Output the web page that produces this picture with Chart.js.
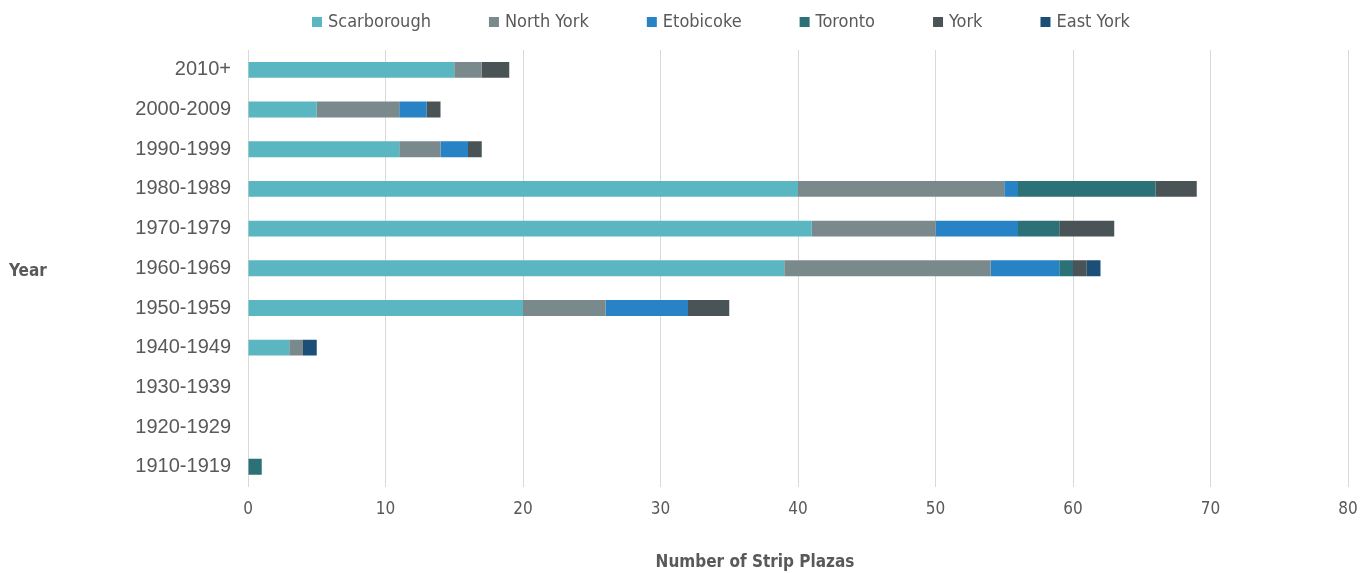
<!DOCTYPE html>
<html>
<head>
<meta charset="utf-8">
<script src="https://cdn.jsdelivr.net/npm/chart.js@4.4.1/dist/chart.umd.min.js"></script>
<style>
  html, body { margin: 0; padding: 0; background: #ffffff; }
  #wrap { width: 1372px; height: 573px; position: relative; }
</style>
</head>
<body>
<div id="wrap"><canvas id="c"></canvas></div>
<script>
// Decades of construction, newest first (top row of the chart)
const decades = ['2010+', '2000-2009', '1990-1999', '1980-1989', '1970-1979', '1960-1969',
                 '1950-1959', '1940-1949', '1930-1939', '1920-1929', '1910-1919'];

// Strip plazas built per decade, by former municipality
const scarborough = [15, 5, 11, 40, 41, 39, 20, 3, 0, 0, 0];
const northYork   = [2, 6, 3, 15, 9, 15, 6, 1, 0, 0, 0];
const etobicoke   = [0, 2, 2, 1, 6, 5, 6, 0, 0, 0, 0];
const toronto     = [0, 0, 0, 10, 3, 1, 0, 0, 0, 0, 1];
const york        = [2, 1, 1, 3, 4, 1, 3, 0, 0, 0, 0];
const eastYork    = [0, 0, 0, 0, 0, 1, 0, 1, 0, 0, 0];

const xTicks = [0, 10, 20, 30, 40, 50, 60, 70, 80];

const series = [
  { label: 'Scarborough', data: scarborough, color: '#5ab6c0' },
  { label: 'North York',  data: northYork,   color: '#7a8a8c' },
  { label: 'Etobicoke',   data: etobicoke,   color: '#2782c6' },
  { label: 'Toronto',     data: toronto,     color: '#2d7178' },
  { label: 'York',        data: york,        color: '#4a5355' },
  { label: 'East York',   data: eastYork,    color: '#1b4f78' }
];

const condensed = '"DejaVu Sans Condensed", "Liberation Sans", sans-serif';
const textGray = '#595959';

// Legend row across the top, plus the two axis titles, drawn on the canvas
const annotations = {
  id: 'annotations',
  afterDraw(chart) {
    const { ctx, chartArea } = chart;
    ctx.save();
    ctx.fillStyle = textGray;

    // legend: square swatch followed by the series name
    ctx.font = '18px ' + condensed;
    ctx.textBaseline = 'middle';
    ctx.textAlign = 'left';
    const start = 312, end = 1130, box = 10, gapText = 6, y = 22;
    const widths = chart.data.datasets.map(d => box + gapText + ctx.measureText(d.label).width);
    const spacing = (end - start - widths.reduce((a, b) => a + b, 0)) / (widths.length - 1);
    let x = start;
    chart.data.datasets.forEach((d, i) => {
      ctx.fillStyle = d.backgroundColor;
      ctx.fillRect(x, y - box / 2, box, box);
      ctx.fillStyle = textGray;
      ctx.fillText(d.label, x + box + gapText, y);
      x += widths[i] + spacing;
    });

    // axis titles
    ctx.font = 'bold 17px ' + condensed;
    ctx.fillText('Year', 9, (chartArea.top + chartArea.bottom) / 2 + 3);
    ctx.textAlign = 'center';
    ctx.fillText('Number of Strip Plazas', 755, 563);
    ctx.restore();
  }
};

new Chart(document.getElementById('c'), {
  type: 'bar',
  data: {
    labels: decades,
    datasets: series.map(s => ({
      label: s.label,
      data: s.data,
      backgroundColor: s.color,
      borderWidth: 0,
      barPercentage: 0.4,
      categoryPercentage: 1.0
    }))
  },
  options: {
    indexAxis: 'y',
    responsive: true,
    maintainAspectRatio: false,
    animation: false,
    layout: { padding: { left: 0, right: 24, top: 50, bottom: 40 } },
    plugins: {
      legend: { display: false },
      tooltip: { enabled: false }
    },
    scales: {
      x: {
        stacked: true,
        min: 0,
        max: 80,
        afterBuildTicks(scale) { scale.ticks = xTicks.map(v => ({ value: v })); },
        grid: { color: '#d9d9d9', lineWidth: 1, drawTicks: false },
        border: { display: false },
        ticks: {
          color: textGray,
          padding: 13,
          font: { family: condensed, size: 17 }
        }
      },
      y: {
        stacked: true,
        grid: { display: false, drawTicks: false },
        border: { display: false },
        afterFit(scale) { scale.width = 248; },
        ticks: {
          color: textGray,
          padding: 17,
          font: { family: '"Liberation Sans", Arial, sans-serif', size: 20 }
        }
      }
    }
  },
  plugins: [annotations]
});
</script>
</body>
</html>
